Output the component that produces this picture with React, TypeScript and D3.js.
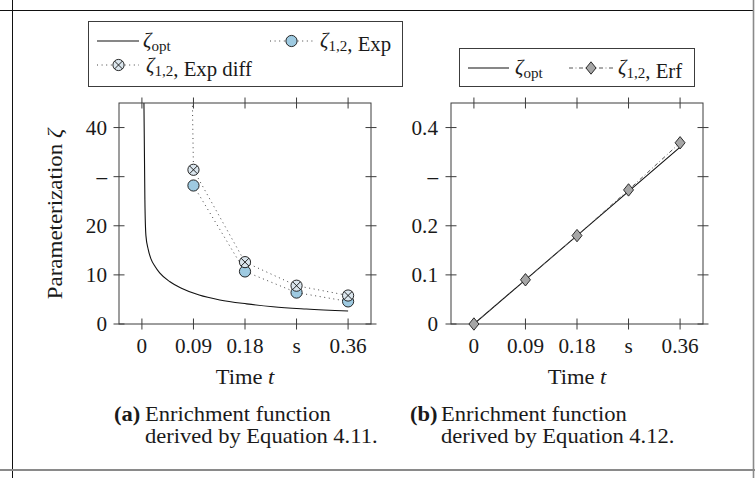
import React from "react";
import * as d3 from "d3";

// ---- data ----
const tickValues = [0, 0.09, 0.18, 0.27, 0.36];
const xTickLabels = ["0", "0.09", "0.18", "s", "0.36"];
const leftYTicks = [0, 10, 20, 30, 40];
const leftYTickLabels = ["0", "10", "20", "–", "40"];
const rightYTicks = [0, 0.1, 0.2, 0.3, 0.4];
const rightYTickLabels = ["0", "0.1", "0.2", "–", "0.4"];

// (a) optimal parameter curve
const optTime = [0.0035, 0.0052, 0.007, 0.011, 0.016, 0.023, 0.031, 0.049, 0.069, 0.1, 0.136, 0.183, 0.229, 0.287, 0.36];
const optZeta = [45.5, 25.3, 18.0, 15.2, 13.2, 11.7, 10.4, 8.6, 7.3, 5.9, 4.9, 4.1, 3.5, 3.05, 2.65];
// (a) exponential enrichment
const expTime = [0.09, 0.18, 0.27, 0.36];
const expZeta = [28.2, 10.7, 6.4, 4.6];
// (a) exponential enrichment, difference form
const expDiffTime = [0, 0.09, 0.18, 0.27, 0.36];
const expDiffZeta = [700, 31.4, 12.6, 7.8, 5.8];
// (b) optimal parameter and erf enrichment
const optLinTime = [0, 0.09, 0.18, 0.27, 0.36];
const optLinZeta = [0, 0.09, 0.18, 0.27, 0.36];
const erfTime = [0, 0.09, 0.18, 0.27, 0.36];
const erfZeta = [0, 0.09, 0.18, 0.273, 0.369];

const FONT = "'Liberation Serif', 'Times New Roman', serif";
const INK = "#1a1a1a";
const AXIS = "#3c3c3c";
const BLUE = "#9ecae1";
const OTIMES_FILL = "#dbe6ee";
const GRAY = "#a6a6a6";

type TxtProps = {
  x: number;
  y: number;
  size?: number;
  sx?: number;
  anchor?: "start" | "middle" | "end";
  weight?: string;
  rotate?: number;
  children: React.ReactNode;
};

function Txt({ x, y, size = 20.5, sx = 1.1, anchor = "start", weight, rotate = 0, children }: TxtProps) {
  return (
    <g transform={`translate(${x},${y}) rotate(${rotate}) scale(${sx},1)`}>
      <text textAnchor={anchor} fontSize={size} fontFamily={FONT} fill={INK} fontWeight={weight}>
        {children}
      </text>
    </g>
  );
}

function Zeta({ sub }: { sub: string }) {
  return (
    <>
      <tspan fontStyle="italic">ζ</tspan>
      <tspan fontSize={14.5} dy={4}>{sub}</tspan>
      <tspan dy={-4}>{""}</tspan>
    </>
  );
}

function Circle({ cx, cy }: { cx: number; cy: number }) {
  return <circle cx={cx} cy={cy} r={5.6} fill={BLUE} stroke="#111" strokeWidth={0.9} />;
}

function OTimes({ cx, cy }: { cx: number; cy: number }) {
  const r = 5.6;
  const d = r * Math.SQRT1_2;
  return (
    <g stroke="#111" strokeWidth={0.9}>
      <circle cx={cx} cy={cy} r={r} fill={OTIMES_FILL} />
      <line x1={cx - d} y1={cy - d} x2={cx + d} y2={cy + d} />
      <line x1={cx - d} y1={cy + d} x2={cx + d} y2={cy - d} />
    </g>
  );
}

function Diamond({ cx, cy }: { cx: number; cy: number }) {
  const hw = 5, hh = 6.2;
  return (
    <path
      d={`M${cx},${cy - hh}L${cx + hw},${cy}L${cx},${cy + hh}L${cx - hw},${cy}Z`}
      fill={GRAY}
      stroke="#1a1a1a"
      strokeWidth={0.9}
    />
  );
}

type Frame = {
  x: d3.ScaleLinear<number, number>;
  y: d3.ScaleLinear<number, number>;
};

function AxisBox({ x, y, yTicks, yLabels, labelX }: Frame & { yTicks: number[]; yLabels: string[]; labelX: number }) {
  const [x0, x1] = x.range();
  const [yb, yt] = y.range();
  const t = 5.5;
  return (
    <g>
      <rect x={x0} y={yt} width={x1 - x0} height={yb - yt} fill="none" stroke={AXIS} strokeWidth={1} />
      {tickValues.map((v) => (
        <g key={"xt" + v} stroke={AXIS} strokeWidth={1}>
          <line x1={x(v)} x2={x(v)} y1={yb - t} y2={yb + t} />
          <line x1={x(v)} x2={x(v)} y1={yt - t} y2={yt + t} />
        </g>
      ))}
      {yTicks.map((v) => (
        <g key={"yt" + v} stroke={AXIS} strokeWidth={1}>
          <line x1={x0 - t} x2={x0 + t} y1={y(v)} y2={y(v)} />
          <line x1={x1 - t} x2={x1 + t} y1={y(v)} y2={y(v)} />
        </g>
      ))}
      {tickValues.map((v, i) => (
        <Txt key={"xl" + v} x={x(v)} y={yb + 29} anchor="middle" size={20} sx={1.06}>
          {xTickLabels[i]}
        </Txt>
      ))}
      {yTicks.map((v, i) => (
        <Txt key={"yl" + v} x={labelX} y={y(v) + 7} anchor="end" size={20} sx={1.06}>
          {yLabels[i]}
        </Txt>
      ))}
    </g>
  );
}

export default function App() {
  const xA = d3.scaleLinear().domain([-0.04, 0.4]).range([119, 371]);
  const yA = d3.scaleLinear().domain([0, 45]).range([324, 103]);
  const xB = d3.scaleLinear().domain([-0.04, 0.4]).range([451, 703]);
  const yB = d3.scaleLinear().domain([0, 0.45]).range([324, 103]);

  const smoothA = d3
    .line<[number, number]>()
    .x((d) => xA(d[0]))
    .y((d) => yA(d[1]))
    .curve(d3.curveMonotoneX);
  const straightA = d3
    .line<[number, number]>()
    .x((d) => xA(d[0]))
    .y((d) => yA(d[1]));
  const lineB = d3
    .line<[number, number]>()
    .x((d) => xB(d[0]))
    .y((d) => yB(d[1]));

  const optPts = optTime.map((t, i) => [t, optZeta[i]] as [number, number]);
  const expPts = expTime.map((t, i) => [t, expZeta[i]] as [number, number]);
  const expDiffPts = expDiffTime.map((t, i) => [t, expDiffZeta[i]] as [number, number]);
  const optLinPts = optLinTime.map((t, i) => [t, optLinZeta[i]] as [number, number]);
  const erfPts = erfTime.map((t, i) => [t, erfZeta[i]] as [number, number]);

  const inA = (p: [number, number]) => p[1] <= yA.domain()[1] && p[0] >= xA.domain()[0];

  return (
    <svg width={755} height={478} style={{ position: "absolute", left: 0, top: 0 }}>
      <defs>
        <clipPath id="clipA">
          <rect x={119} y={103} width={252} height={221} />
        </clipPath>
        <clipPath id="clipB">
          <rect x={451} y={103} width={252} height={221} />
        </clipPath>
      </defs>
      <rect width={755} height={478} fill="#fff" />

      {/* page frame */}
      <line x1={0} x2={753} y1={10.5} y2={10.5} stroke="#111" strokeWidth={1} />
      <line x1={12.5} x2={12.5} y1={0} y2={478} stroke="#111" strokeWidth={1} />
      <line x1={753.5} x2={753.5} y1={0} y2={478} stroke="#8a8a8a" strokeWidth={1.6} />
      <line x1={0} x2={755} y1={470} y2={470} stroke="#8a8a8a" strokeWidth={2} />

      {/* ---------- panel (a) ---------- */}
      <g clipPath="url(#clipA)">
        <path d={smoothA(optPts) ?? ""} fill="none" stroke="#111" strokeWidth={1.1} />
        <path d={straightA(expPts) ?? ""} fill="none" stroke="#444" strokeWidth={1} strokeDasharray="1 3.6" />
        <path d={straightA(expDiffPts) ?? ""} fill="none" stroke="#444" strokeWidth={1} strokeDasharray="1 3.6" />
      </g>
      <AxisBox x={xA} y={yA} yTicks={leftYTicks} yLabels={leftYTickLabels} labelX={107} />
      {expPts.filter(inA).map((p) => (
        <Circle key={"c" + p[0]} cx={xA(p[0])} cy={yA(p[1])} />
      ))}
      {expDiffPts.filter(inA).map((p) => (
        <OTimes key={"o" + p[0]} cx={xA(p[0])} cy={yA(p[1])} />
      ))}
      <Txt x={62} y={214} anchor="middle" rotate={-90} sx={1.12}>
        Parameterization <tspan fontStyle="italic">ζ</tspan>
      </Txt>
      <Txt x={245} y={384} anchor="middle">
        Time <tspan fontStyle="italic">t</tspan>
      </Txt>
      <Txt x={114} y={421} weight="bold">(a)</Txt>
      <Txt x={145} y={421}>Enrichment function</Txt>
      <Txt x={145} y={443}>derived by Equation 4.11.</Txt>

      {/* legend (a) */}
      <rect x={88.5} y={21.5} width={314} height={65} fill="#fff" stroke={AXIS} strokeWidth={1} />
      <line x1={97} x2={139} y1={41} y2={41} stroke="#111" strokeWidth={1.1} />
      <Txt x={143} y={47} size={20} sx={1.04}><Zeta sub="opt" /></Txt>
      <line x1={270} x2={313} y1={41} y2={41} stroke="#444" strokeWidth={1} strokeDasharray="1 3.6" />
      <Circle cx={291.5} cy={41} />
      <Txt x={320} y={47} size={20} sx={1.04}><Zeta sub="1,2" />, Exp</Txt>
      <line x1={97} x2={139} y1={65} y2={65} stroke="#444" strokeWidth={1} strokeDasharray="1 3.6" />
      <OTimes cx={118.5} cy={65} />
      <Txt x={146} y={72} size={20} sx={1.04}><Zeta sub="1,2" />, Exp diff</Txt>

      {/* ---------- panel (b) ---------- */}
      <g clipPath="url(#clipB)">
        <path d={lineB(optLinPts) ?? ""} fill="none" stroke="#111" strokeWidth={1.1} />
        <path d={lineB(erfPts) ?? ""} fill="none" stroke="#555" strokeWidth={1} strokeDasharray="4 2.6 0.8 2.6" />
      </g>
      <AxisBox x={xB} y={yB} yTicks={rightYTicks} yLabels={rightYTickLabels} labelX={438} />
      {erfPts.map((p) => (
        <Diamond key={"d" + p[0]} cx={xB(p[0])} cy={yB(p[1])} />
      ))}
      <Txt x={577} y={384} anchor="middle">
        Time <tspan fontStyle="italic">t</tspan>
      </Txt>
      <Txt x={410} y={421} weight="bold">(b)</Txt>
      <Txt x={441} y={421}>Enrichment function</Txt>
      <Txt x={441} y={443}>derived by Equation 4.12.</Txt>

      {/* legend (b) */}
      <rect x={459.5} y={48.5} width={235} height={38} fill="#fff" stroke={AXIS} strokeWidth={1} />
      <line x1={468} x2={509} y1={68} y2={68} stroke="#111" strokeWidth={1.1} />
      <Txt x={515} y={74} size={20} sx={1.04}><Zeta sub="opt" /></Txt>
      <line x1={569} x2={613} y1={68} y2={68} stroke="#555" strokeWidth={1} strokeDasharray="4 2.6 0.8 2.6" />
      <Diamond cx={591} cy={68} />
      <Txt x={618} y={74} size={20} sx={1.04}><Zeta sub="1,2" />, Erf</Txt>
    </svg>
  );
}
